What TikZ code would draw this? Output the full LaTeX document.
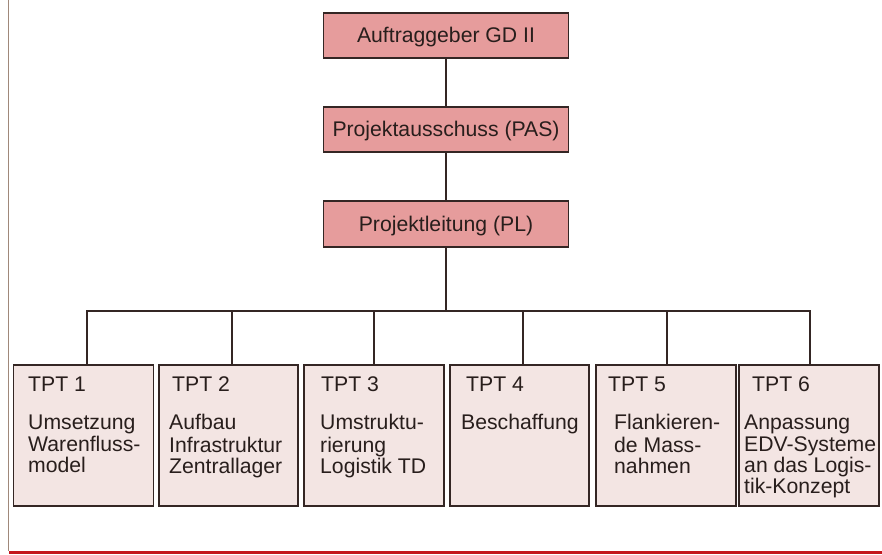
\documentclass[tikz,border=0pt]{standalone}
\usepackage{fontspec}
\setmainfont{Liberation Sans}
\definecolor{topfill}{RGB}{230,156,156}
\definecolor{tptfill}{RGB}{243,229,227}
\definecolor{edge}{RGB}{52,38,36}
\definecolor{ink}{RGB}{40,30,28}
\definecolor{redbar}{RGB}{196,22,30}
\definecolor{margin}{RGB}{160,136,122}
\begin{document}
\begin{tikzpicture}[x=1pt,y=-1pt,
  boxfont/.style={font=\fontsize{21.2}{21}\selectfont},
  topbox/.style={draw=edge,line width=1.8pt,fill=topfill,minimum width=245pt,
    inner sep=0pt,text=ink,boxfont,text height=14.5pt,text depth=0.5pt},
  tptbox/.style={draw=edge,line width=1.8pt,fill=tptfill,minimum width=140pt,
    minimum height=141pt,inner sep=0pt},
  head/.style={anchor=base west,inner sep=0pt,text=ink,boxfont},
  body/.style={anchor=north west,inner sep=0pt,text=ink,boxfont,align=left},
  conn/.style={draw=edge,line width=1.8pt}]
\useasboundingbox (0,0) rectangle (882,554);
\fill[white] (0,0) rectangle (882,554);
% page margin line and red bar
\draw[margin,line width=1.1pt] (8.5,0) -- (8.5,551);
\fill[redbar] (9,551) rectangle (882,554);

% top chain
\node[topbox,minimum height=45pt] (ag) at (446,35.5) {Auftraggeber GD II};
\node[topbox,minimum height=45pt] (pas) at (446,129.5) {Projektausschuss (PAS)};
\node[topbox,minimum height=46pt] (pl) at (446,224) {Projektleitung (PL)};

% TPT boxes
\node[tptbox] (t1) at (83.5,435.5) {};
\node[tptbox,minimum width=139pt] (t2) at (228.5,435.5) {};
\node[tptbox] (t3) at (374,435.5) {};
\node[tptbox,minimum width=139pt] (t4) at (519.5,435.5) {};
\node[tptbox] (t5) at (666,435.5) {};
\node[tptbox] (t6) at (809,435.5) {};

% connectors
\coordinate (bus) at (446,311);
\draw[conn] (ag.south) -- (pas.north);
\draw[conn] (pas.south) -- (pl.north);
\draw[conn] (pl.south) -- (bus);
\draw[conn] ([xshift=3.5pt]t1.north) |- (bus);
\draw[conn] ([xshift=3.5pt]t2.north) |- (bus);
\draw[conn] (t3.north) |- (bus);
\draw[conn] ([xshift=3.5pt]t4.north) |- (bus);
\draw[conn] ([xshift=1pt]t5.north) |- (bus);
\draw[conn] ([xshift=1pt]t6.north) |- (bus);

% TPT texts
\node[head] (h1) at (28,391) {TPT 1};
\node[head] (h2) at (172,391) {TPT 2};
\node[head] (h3) at (321,391) {TPT 3};
\node[head] (h4) at (466,391) {TPT 4};
\node[head] (h5) at (608,391) {TPT 5};
\node[head] (h6) at (752,391) {TPT 6};

\node[body] (b1) at (28,414.3) {\strut Umsetzung\\Warenfluss-\\model};
\node[body] (b2) at (169,414.3) {\strut Aufbau\\Infrastruktur\\Zentrallager};
\node[body] (b3) at (320,414.3) {\strut Umstruktu-\\rierung\\Logistik TD};
\node[body] (b4) at (461,414.3) {\strut Beschaffung};
\node[body] (b5) at (614,414.3) {\strut Flankieren-\\de Mass-\\nahmen};
\node[body] (b6) at (744,414.3) {\strut Anpassung\\EDV-Systeme\\an das Logis-\\tik-Konzept};
\end{tikzpicture}
\end{document}
